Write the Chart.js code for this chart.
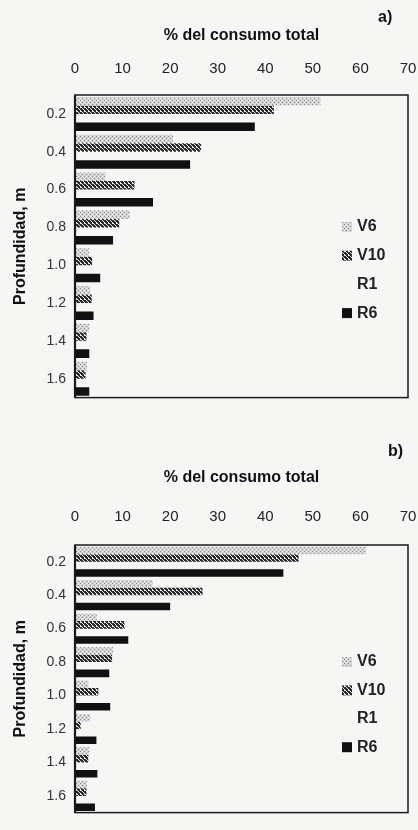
<!DOCTYPE html>
<html>
<head>
<meta charset="utf-8">
<script src="https://cdn.jsdelivr.net/npm/chart.js@4.4.0/dist/chart.umd.min.js"></script>
<style>
  html, body { margin: 0; padding: 0; background: #f6f6f4; }
  .box { position: relative; width: 418px; height: 415px; }
</style>
</head>
<body>
<div class="box"><canvas id="grafA" width="418" height="415"></canvas></div>
<div class="box"><canvas id="grafB" width="418" height="415"></canvas></div>
<script>
const profundidades = ["0.2", "0.4", "0.6", "0.8", "1.0", "1.2", "1.4", "1.6"];
const series = ["V6", "V10", "R1", "R6"];

// a)
const v6A = [51.6, 20.6, 6.4, 11.5, 3.0, 3.2, 3.0, 2.5];
const v10A = [41.8, 26.5, 12.5, 9.3, 3.6, 3.5, 2.4, 2.2];
const r1A = [null, null, null, null, null, null, null, null];
const r6A = [37.8, 24.2, 16.4, 8.0, 5.3, 3.9, 3.0, 3.0];

// b)
const v6B = [61.2, 16.3, 4.6, 8.0, 2.8, 3.2, 3.0, 2.5];
const v10B = [47.0, 26.8, 10.4, 7.8, 4.9, 1.2, 2.8, 2.4];
const r1B = [null, null, null, null, null, null, null, null];
const r6B = [43.8, 20.0, 11.2, 7.2, 7.4, 4.5, 4.7, 4.2];

const fuente = "'Liberation Sans', Arial, sans-serif";

function patronPuntos() {
  const c = document.createElement("canvas");
  c.width = 4; c.height = 4;
  const g = c.getContext("2d");
  g.fillStyle = "#d4d4d4";
  g.fillRect(0, 0, 4, 4);
  g.fillStyle = "#8a8a8a";
  g.fillRect(0, 0, 1, 1);
  g.fillRect(2, 2, 1, 1);
  g.fillStyle = "#f0f0f0";
  g.fillRect(2, 0, 1, 1);
  g.fillRect(0, 2, 1, 1);
  return g.createPattern(c, "repeat");
}

function patronRayas() {
  const c = document.createElement("canvas");
  c.width = 4; c.height = 4;
  const g = c.getContext("2d");
  g.fillStyle = "#e8e8e8";
  g.fillRect(0, 0, 4, 4);
  g.fillStyle = "#2a2a2a";
  for (let i = 0; i < 4; i++) {
    g.fillRect(i, i, 2, 1);
    g.fillRect((i + 3) % 4, i, 1, 1);
  }
  return g.createPattern(c, "repeat");
}

const estilos = [patronPuntos(), patronRayas(), "rgba(255,255,255,0)", "#111111"];

// marco, letra del panel y leyenda dentro del area
const extras = {
  id: "extras",
  afterDraw(chart, args, opts) {
    const { ctx, chartArea: a } = chart;
    ctx.save();
    ctx.strokeStyle = "#1a1a1a";
    ctx.lineWidth = 1.5;
    ctx.strokeRect(a.left, a.top, a.right - a.left, a.bottom - a.top);
    ctx.lineWidth = 2.2;
    ctx.beginPath();
    ctx.moveTo(a.left, a.top);
    ctx.lineTo(a.left, a.bottom);
    ctx.stroke();

    ctx.fillStyle = "#111";
    ctx.font = "bold 16px " + fuente;
    ctx.textBaseline = "middle";
    ctx.textAlign = "left";
    ctx.fillText(opts.letra, opts.letraX, opts.letraY);

    ctx.font = "bold 16px " + fuente;
    chart.data.datasets.forEach((ds, i) => {
      const y = opts.leyY + i * opts.leyPaso;
      ctx.fillStyle = ds.backgroundColor;
      ctx.fillRect(opts.leyX, y - 5, 10, 10);
      ctx.fillStyle = "#222";
      ctx.fillText(ds.label, opts.leyX + 15, y);
    });
    ctx.restore();
  },
};

function crearGrafico(id, datos, cfg) {
  new Chart(document.getElementById(id), {
    type: "bar",
    data: {
      labels: profundidades,
      datasets: series.map((s, i) => ({
        label: s,
        data: datos[i],
        backgroundColor: estilos[i],
        borderWidth: 0,
        barPercentage: 1.0,
        categoryPercentage: 0.9,
      })),
    },
    options: {
      indexAxis: "y",
      responsive: false,
      animation: false,
      layout: { padding: { left: 0, right: 10, top: 0, bottom: cfg.abajo } },
      plugins: {
        legend: { display: false },
        tooltip: { enabled: false },
        extras: cfg.extras,
      },
      scales: {
        x: {
          position: "top",
          min: 0,
          max: 70,
          grid: { display: false, drawTicks: false },
          border: { display: false },
          ticks: {
            stepSize: 10,
            padding: cfg.tickPad,
            color: "#222",
            font: { family: fuente, size: 15 },
          },
          title: {
            display: true,
            text: "% del consumo total",
            color: "#111",
            font: { family: fuente, size: 16, weight: "bold" },
            padding: { top: cfg.tituloPad, bottom: 0 },
          },
          afterFit(scale) {
            scale.height = cfg.arriba;
            scale.paddingLeft = 0;
            scale.paddingRight = 0;
          },
        },
        y: {
          grid: { display: false, drawTicks: false },
          border: { display: false },
          ticks: {
            padding: 9,
            color: "#333",
            font: { family: fuente, size: 14 },
          },
          title: {
            display: true,
            text: "Profundidad, m",
            color: "#111",
            font: { family: fuente, size: 16, weight: "bold" },
            padding: { top: 11, bottom: 0 },
          },
          afterFit(scale) { scale.width = 75; },
        },
      },
    },
    plugins: [extras],
  });
}

crearGrafico("grafA", [v6A, v10A, r1A, r6A], {
  arriba: 95, abajo: 17, tickPad: 17, tituloPad: 26,
  extras: { letra: "a)", letraX: 378, letraY: 18, leyX: 342, leyY: 227, leyPaso: 28.7 },
});

crearGrafico("grafB", [v6B, v10B, r1B, r6B], {
  arriba: 130, abajo: 3, tickPad: 19, tituloPad: 53,
  extras: { letra: "b)", letraX: 388, letraY: 37, leyX: 342, leyY: 247, leyPaso: 28.4 },
});
</script>
</body>
</html>
